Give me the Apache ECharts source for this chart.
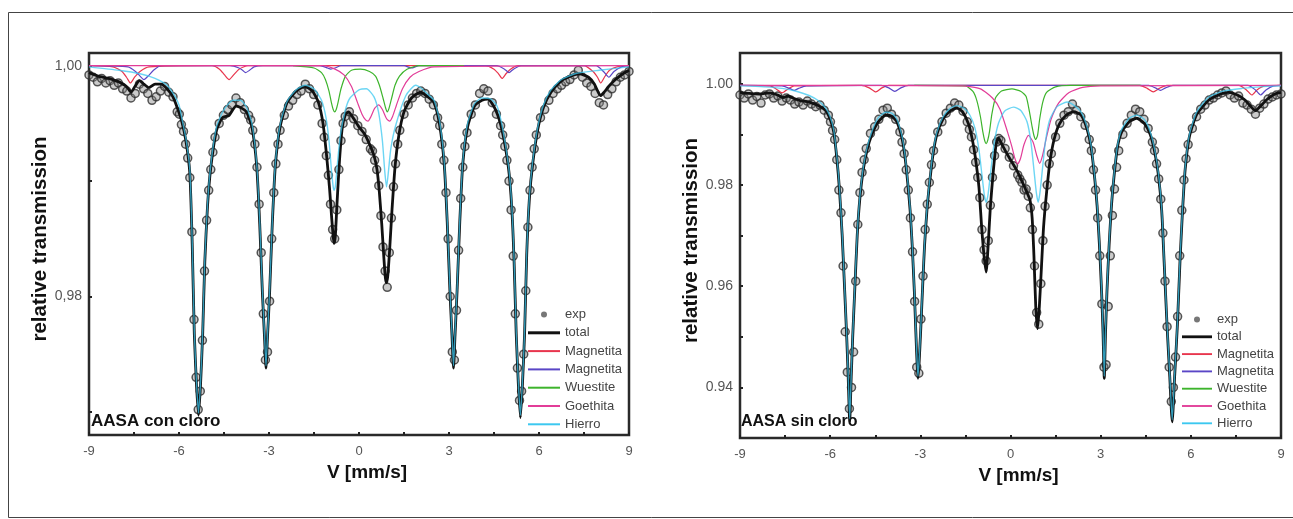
<!DOCTYPE html>
<html>
<head>
<meta charset="utf-8">
<script src="https://cdn.jsdelivr.net/npm/echarts@6/dist/echarts.min.js"></script>
<style>
  html, body { margin: 0; padding: 0; background: #fff; }
  #chart { width: 1293px; height: 519px; }
</style>
</head>
<body>
<div id="chart"></div>
<script>
// ---- AASA con cloro (left panel), [V mm/s, relative transmission] ----
const leftExp = [
  [-9.00,0.9992],[-8.86,0.9990],[-8.72,0.9986],[-8.58,0.9989],[-8.44,0.9985],[-8.30,0.9987],[-8.16,0.9983],
  [-8.02,0.9985],[-7.88,0.9980],[-7.74,0.9978],[-7.60,0.9972],[-7.46,0.9976],[-7.32,0.9984],[-7.18,0.9980],
  [-7.04,0.9976],[-6.90,0.9970],[-6.76,0.9973],[-6.62,0.9978],[-6.48,0.9982],[-6.34,0.9977],[-6.20,0.9973],
  [-6.06,0.9960],[-5.99,0.9958],[-5.92,0.9949],[-5.85,0.9943],[-5.78,0.9932],[-5.71,0.9920],[-5.64,0.9903],
  [-5.57,0.9856],[-5.50,0.9780],[-5.43,0.9730],[-5.36,0.9702],[-5.29,0.9718],[-5.22,0.9762],[-5.15,0.9822],
  [-5.08,0.9866],[-5.01,0.9892],[-4.94,0.9910],[-4.87,0.9925],[-4.80,0.9938],[-4.66,0.9950],[-4.52,0.9957],
  [-4.38,0.9962],[-4.24,0.9966],[-4.10,0.9972],[-3.96,0.9968],[-3.82,0.9962],[-3.68,0.9957],[-3.61,0.9953],
  [-3.54,0.9944],[-3.47,0.9932],[-3.40,0.9912],[-3.33,0.9880],[-3.26,0.9838],[-3.19,0.9785],[-3.12,0.9745],
  [-3.05,0.9752],[-2.98,0.9796],[-2.91,0.9850],[-2.84,0.9890],[-2.77,0.9915],[-2.70,0.9932],[-2.63,0.9944],
  [-2.49,0.9957],[-2.35,0.9965],[-2.21,0.9970],[-2.07,0.9975],[-1.93,0.9978],[-1.79,0.9984],[-1.65,0.9980],
  [-1.51,0.9975],[-1.37,0.9966],[-1.23,0.9950],[-1.16,0.9938],[-1.09,0.9922],[-1.02,0.9905],[-0.95,0.9880],
  [-0.88,0.9858],[-0.81,0.9850],[-0.74,0.9875],[-0.67,0.9910],[-0.60,0.9935],[-0.53,0.9950],[-0.46,0.9956],
  [-0.32,0.9960],[-0.18,0.9954],[-0.04,0.9948],[0.10,0.9943],[0.24,0.9936],[0.38,0.9928],[0.45,0.9926],
  [0.52,0.9918],[0.59,0.9910],[0.66,0.9896],[0.73,0.9870],[0.80,0.9843],[0.87,0.9822],[0.94,0.9808],
  [1.01,0.9838],[1.08,0.9868],[1.15,0.9895],[1.22,0.9915],[1.29,0.9932],[1.36,0.9944],[1.50,0.9958],
  [1.64,0.9966],[1.78,0.9972],[1.92,0.9976],[2.06,0.9978],[2.20,0.9976],[2.34,0.9971],[2.48,0.9966],
  [2.62,0.9955],[2.69,0.9948],[2.76,0.9932],[2.83,0.9918],[2.90,0.9890],[2.97,0.9850],[3.04,0.9800],
  [3.11,0.9752],[3.18,0.9745],[3.25,0.9788],[3.32,0.9840],[3.39,0.9885],[3.46,0.9912],[3.53,0.9930],
  [3.60,0.9942],[3.74,0.9958],[3.88,0.9966],[4.02,0.9976],[4.16,0.9980],[4.30,0.9978],[4.44,0.9968],
  [4.58,0.9958],[4.72,0.9948],[4.79,0.9940],[4.86,0.9930],[4.93,0.9918],[5.00,0.9900],[5.07,0.9875],
  [5.14,0.9835],[5.21,0.9785],[5.28,0.9738],[5.35,0.9710],[5.42,0.9718],[5.49,0.9750],[5.56,0.9805],
  [5.63,0.9860],[5.70,0.9892],[5.77,0.9912],[5.84,0.9928],[5.91,0.9940],[6.05,0.9955],[6.19,0.9962],
  [6.33,0.9970],[6.47,0.9976],[6.61,0.9980],[6.75,0.9983],[6.89,0.9986],[7.03,0.9988],[7.17,0.9992],
  [7.31,0.9996],[7.45,0.9990],[7.59,0.9985],[7.73,0.9982],[7.87,0.9976],[8.01,0.9968],[8.15,0.9966],
  [8.29,0.9975],[8.43,0.9980],[8.57,0.9986],[8.71,0.9990],[8.85,0.9992],[9.00,0.9995]
];
const leftTotal = [
  [-9.00,0.9994],[-8.70,0.9991],[-8.35,0.9989],[-8.00,0.9986],[-7.75,0.9982],[-7.60,0.9977],[-7.47,0.9982],
  [-7.32,0.9987],[-7.17,0.9984],[-7.00,0.9981],[-6.80,0.9984],[-6.60,0.9984],[-6.40,0.9980],[-6.20,0.9973],
  [-6.05,0.9963],[-5.91,0.9952],[-5.77,0.9935],[-5.64,0.9907],[-5.56,0.9846],[-5.49,0.9768],[-5.42,0.9725],
  [-5.35,0.9697],[-5.28,0.9725],[-5.21,0.9768],[-5.14,0.9830],[-5.05,0.9878],[-4.94,0.9912],[-4.75,0.9944],
  [-4.55,0.9955],[-4.33,0.9957],[-4.10,0.9965],[-3.90,0.9963],[-3.75,0.9960],[-3.57,0.9947],[-3.41,0.9913],
  [-3.31,0.9863],[-3.22,0.9803],[-3.15,0.9765],[-3.10,0.9738],[-3.05,0.9765],[-2.98,0.9803],[-2.89,0.9863],
  [-2.79,0.9913],[-2.63,0.9947],[-2.40,0.9968],[-2.10,0.9978],[-1.80,0.9982],[-1.55,0.9978],[-1.35,0.9968],
  [-1.20,0.9950],[-1.08,0.9922],[-0.98,0.9893],[-0.91,0.9868],[-0.86,0.9852],[-0.83,0.9846],[-0.79,0.9852],
  [-0.73,0.9882],[-0.65,0.9918],[-0.56,0.9946],[-0.45,0.9958],[-0.35,0.9960],[-0.20,0.9955],[0.00,0.9947],
  [0.18,0.9941],[0.35,0.9932],[0.50,0.9922],[0.60,0.9910],[0.68,0.9890],[0.76,0.9862],[0.83,0.9833],
  [0.88,0.9816],[0.92,0.9812],[0.96,0.9818],[1.02,0.9840],[1.10,0.9875],[1.20,0.9912],[1.33,0.9940],
  [1.50,0.9960],[1.75,0.9972],[2.05,0.9977],[2.30,0.9973],[2.50,0.9968],[2.68,0.9950],[2.84,0.9915],
  [2.94,0.9865],[3.03,0.9805],[3.10,0.9766],[3.15,0.9738],[3.20,0.9766],[3.27,0.9805],[3.36,0.9865],
  [3.46,0.9915],[3.62,0.9947],[3.85,0.9965],[4.10,0.9970],[4.30,0.9971],[4.55,0.9962],[4.77,0.9944],
  [4.98,0.9912],[5.09,0.9878],[5.17,0.9830],[5.24,0.9768],[5.31,0.9725],[5.38,0.9695],[5.45,0.9725],
  [5.52,0.9768],[5.59,0.9836],[5.68,0.9885],[5.79,0.9915],[5.96,0.9945],[6.15,0.9964],[6.40,0.9977],
  [6.75,0.9987],[7.05,0.9991],[7.35,0.9993],[7.65,0.9990],[7.85,0.9984],[8.05,0.9974],[8.17,0.9977],
  [8.32,0.9982],[8.55,0.9988],[8.80,0.9993],[9.00,0.9996]
];
const leftMagA = [
  [-9,1.0],[-8.2,0.9999],[-7.9,0.9995],[-7.75,0.9990],[-7.62,0.9985],[-7.48,0.9990],[-7.3,0.9995],[-7.0,0.9999],
  [-4.9,1.0],[-4.65,0.9997],[-4.48,0.9992],[-4.33,0.9988],[-4.18,0.9992],[-4.0,0.9997],[-3.7,1.0],
  [4.2,1.0],[4.5,0.9997],[4.65,0.9993],[4.77,0.9989],[4.9,0.9993],[5.05,0.9997],[5.3,1.0],
  [7.5,1.0],[7.8,0.9995],[7.95,0.9990],[8.06,0.9985],[8.18,0.9990],[8.35,0.9996],[8.6,0.9999],[9,1.0]
];
const leftMagB = [
  [-9,1.0],[-7.7,0.9999],[-7.45,0.9995],[-7.3,0.9991],[-7.17,0.9988],[-7.03,0.9991],[-6.85,0.9996],[-6.6,1.0],
  [-4.3,1.0],[-4.0,0.9998],[-3.88,0.9996],[-3.78,0.9994],[-3.65,0.9996],[-3.5,0.9999],[-3.2,1.0],
  [-1.3,1.0],[-1.05,0.9998],[-0.94,0.9997],[-0.8,0.9998],[-0.6,1.0],[1.5,1.0],[1.75,0.9998],[2.0,1.0],
  [4.6,1.0],[4.85,0.9997],[5.0,0.9994],[5.15,0.9997],[5.4,1.0],
  [7.9,1.0],[8.15,0.9995],[8.33,0.9990],[8.5,0.9995],[8.75,0.9999],[9,1.0]
];
const leftWue = [
  [-2.2,1.0],[-1.5,0.9998],[-1.25,0.9994],[-1.12,0.9988],[-1.0,0.9978],[-0.92,0.9968],[-0.86,0.9962],
  [-0.81,0.9960],[-0.76,0.9962],[-0.70,0.9968],[-0.60,0.9980],[-0.45,0.9991],[-0.25,0.9996],[0.05,0.9997],
  [0.35,0.9995],[0.55,0.9991],[0.68,0.9983],[0.80,0.9972],[0.88,0.9964],[0.94,0.9960],[1.00,0.9963],
  [1.08,0.9971],[1.20,0.9983],[1.35,0.9991],[1.60,0.9997],[2.0,1.0],[3.5,1.0]
];
const leftGoe = [
  [-9,1.0],[-1.2,1.0],[-0.8,0.9997],[-0.5,0.9992],[-0.25,0.9982],[-0.05,0.9968],[0.10,0.9958],[0.22,0.9953],
  [0.30,0.9952],[0.40,0.9956],[0.52,0.9963],[0.65,0.9966],[0.78,0.9962],[0.92,0.9954],[1.02,0.9952],
  [1.12,0.9956],[1.25,0.9966],[1.45,0.9980],[1.70,0.9990],[2.0,0.9995],[2.5,0.9999],[9,1.0]
];
const leftHie = [
  [-9.00,0.9999],[-8.00,0.9996],[-7.30,0.9993],[-6.80,0.9989],[-6.40,0.9983],[-6.15,0.9974],[-6.00,0.9966],
  [-5.91,0.9955],[-5.77,0.9937],[-5.64,0.9910],[-5.56,0.9848],[-5.49,0.9770],[-5.42,0.9727],[-5.35,0.9699],
  [-5.28,0.9727],[-5.21,0.9770],[-5.14,0.9832],[-5.05,0.9880],[-4.94,0.9914],[-4.75,0.9947],[-4.50,0.9962],
  [-4.20,0.9970],[-3.95,0.9970],[-3.75,0.9964],[-3.57,0.9950],[-3.41,0.9915],[-3.31,0.9865],[-3.22,0.9805],
  [-3.15,0.9767],[-3.10,0.9740],[-3.05,0.9767],[-2.98,0.9805],[-2.89,0.9865],[-2.79,0.9915],[-2.63,0.9949],
  [-2.40,0.9969],[-2.10,0.9979],[-1.80,0.9983],[-1.50,0.9980],[-1.25,0.9970],[-1.10,0.9955],[-1.00,0.9935],
  [-0.92,0.9910],[-0.86,0.9895],[-0.83,0.9892],[-0.79,0.9895],[-0.72,0.9915],[-0.62,0.9940],[-0.45,0.9962],
  [-0.30,0.9972],[0.00,0.9979],[0.25,0.9980],[0.50,0.9973],[0.65,0.9960],[0.78,0.9935],[0.86,0.9908],
  [0.92,0.9895],[0.98,0.9908],[1.06,0.9928],[1.22,0.9948],[1.56,0.9974],[1.89,0.9983],[2.10,0.9980],
  [2.30,0.9975],[2.50,0.9970],[2.68,0.9953],[2.84,0.9917],[2.94,0.9867],[3.03,0.9807],[3.10,0.9768],
  [3.15,0.9740],[3.20,0.9768],[3.27,0.9807],[3.36,0.9867],[3.46,0.9917],[3.62,0.9950],[3.85,0.9967],
  [4.10,0.9972],[4.40,0.9971],[4.60,0.9965],[4.77,0.9948],[4.98,0.9914],[5.09,0.9880],[5.17,0.9832],
  [5.24,0.9770],[5.31,0.9727],[5.38,0.9697],[5.45,0.9727],[5.52,0.9770],[5.59,0.9838],[5.68,0.9887],
  [5.79,0.9917],[5.96,0.9947],[6.15,0.9966],[6.40,0.9979],[6.75,0.9988],[7.20,0.9993],[8.00,0.9996],[9.00,0.9999]
];

// ---- AASA sin cloro (right panel) ----
const rightExp = [
  [-9.00,0.9978],[-8.86,0.9972],[-8.72,0.9980],[-8.58,0.9968],[-8.44,0.9975],[-8.30,0.9962],[-8.16,0.9978],
  [-8.02,0.9980],[-7.88,0.9972],[-7.74,0.9976],[-7.60,0.9966],[-7.46,0.9972],[-7.32,0.9968],[-7.18,0.9960],
  [-7.04,0.9964],[-6.90,0.9958],[-6.76,0.9966],[-6.62,0.9960],[-6.48,0.9955],[-6.34,0.9958],[-6.20,0.9948],
  [-6.06,0.9938],[-5.99,0.9925],[-5.92,0.9908],[-5.85,0.9890],[-5.78,0.9850],[-5.71,0.9790],[-5.64,0.9745],
  [-5.57,0.9640],[-5.50,0.9510],[-5.43,0.9430],[-5.36,0.9358],[-5.29,0.9400],[-5.22,0.9470],[-5.15,0.9610],
  [-5.08,0.9722],[-5.01,0.9785],[-4.94,0.9825],[-4.87,0.9850],[-4.80,0.9872],[-4.66,0.9902],[-4.52,0.9915],
  [-4.38,0.9930],[-4.24,0.9948],[-4.10,0.9952],[-3.96,0.9940],[-3.82,0.9930],[-3.68,0.9905],[-3.61,0.9885],
  [-3.54,0.9862],[-3.47,0.9830],[-3.40,0.9790],[-3.33,0.9735],[-3.26,0.9668],[-3.19,0.9570],[-3.12,0.9440],
  [-3.05,0.9428],[-2.98,0.9535],[-2.91,0.9620],[-2.84,0.9712],[-2.77,0.9762],[-2.70,0.9805],[-2.63,0.9840],
  [-2.56,0.9868],[-2.42,0.9905],[-2.28,0.9925],[-2.14,0.9942],[-2.00,0.9952],[-1.86,0.9962],[-1.72,0.9958],
  [-1.58,0.9946],[-1.44,0.9925],[-1.37,0.9910],[-1.30,0.9895],[-1.23,0.9870],[-1.16,0.9845],[-1.09,0.9815],
  [-1.02,0.9775],[-0.95,0.9712],[-0.88,0.9672],[-0.81,0.9650],[-0.74,0.9690],[-0.67,0.9760],[-0.60,0.9815],
  [-0.53,0.9858],[-0.46,0.9885],[-0.39,0.9892],[-0.32,0.9888],[-0.18,0.9872],[-0.04,0.9855],[0.10,0.9838],
  [0.24,0.9820],[0.31,0.9812],[0.38,0.9805],[0.45,0.9790],[0.52,0.9792],[0.59,0.9778],[0.66,0.9755],
  [0.73,0.9712],[0.80,0.9640],[0.87,0.9548],[0.94,0.9525],[1.01,0.9605],[1.08,0.9690],[1.15,0.9758],
  [1.22,0.9800],[1.29,0.9842],[1.36,0.9862],[1.50,0.9895],[1.64,0.9922],[1.78,0.9938],[1.92,0.9945],
  [2.06,0.9960],[2.20,0.9948],[2.34,0.9935],[2.48,0.9918],[2.62,0.9890],[2.69,0.9868],[2.76,0.9830],
  [2.83,0.9790],[2.90,0.9735],[2.97,0.9660],[3.04,0.9565],[3.11,0.9440],[3.18,0.9445],[3.25,0.9560],
  [3.32,0.9660],[3.39,0.9740],[3.46,0.9792],[3.53,0.9835],[3.60,0.9868],[3.74,0.9900],[3.88,0.9922],
  [4.02,0.9938],[4.16,0.9950],[4.30,0.9945],[4.44,0.9930],[4.58,0.9912],[4.72,0.9885],[4.79,0.9868],
  [4.86,0.9842],[4.93,0.9812],[5.00,0.9772],[5.07,0.9705],[5.14,0.9610],[5.21,0.9520],[5.28,0.9440],
  [5.35,0.9372],[5.42,0.9400],[5.49,0.9460],[5.56,0.9540],[5.63,0.9660],[5.70,0.9750],[5.77,0.9810],
  [5.84,0.9852],[5.91,0.9880],[6.05,0.9912],[6.19,0.9935],[6.33,0.9950],[6.47,0.9958],[6.61,0.9968],
  [6.75,0.9972],[6.89,0.9978],[7.03,0.9982],[7.17,0.9986],[7.31,0.9978],[7.45,0.9972],[7.59,0.9976],
  [7.73,0.9962],[7.87,0.9958],[8.01,0.9950],[8.15,0.9940],[8.29,0.9952],[8.43,0.9960],[8.57,0.9970],
  [8.71,0.9974],[8.85,0.9978],[9.00,0.9980]
];
const rightTotal = [
  [-9.00,0.9983],[-8.70,0.9981],[-8.35,0.9980],[-8.00,0.9982],[-7.75,0.9978],[-7.57,0.9973],[-7.40,0.9976],
  [-7.20,0.9971],[-7.00,0.9967],[-6.70,0.9964],[-6.40,0.9957],[-6.15,0.9947],[-6.00,0.9930],[-5.88,0.9905],
  [-5.77,0.9848],[-5.69,0.9790],[-5.60,0.9700],[-5.52,0.9595],[-5.45,0.9500],[-5.40,0.9420],[-5.35,0.9334],
  [-5.30,0.9420],[-5.25,0.9500],[-5.18,0.9595],[-5.10,0.9700],[-5.01,0.9775],[-4.90,0.9830],[-4.77,0.9870],
  [-4.60,0.9902],[-4.40,0.9925],[-4.15,0.9938],[-3.95,0.9936],[-3.78,0.9925],[-3.62,0.9895],[-3.52,0.9860],
  [-3.42,0.9805],[-3.34,0.9750],[-3.27,0.9680],[-3.20,0.9590],[-3.15,0.9510],[-3.11,0.9450],[-3.08,0.9418],
  [-3.04,0.9450],[-2.99,0.9510],[-2.93,0.9590],[-2.86,0.9680],[-2.78,0.9750],[-2.69,0.9805],[-2.58,0.9860],
  [-2.45,0.9900],[-2.25,0.9930],[-2.00,0.9947],[-1.78,0.9952],[-1.60,0.9945],[-1.40,0.9921],[-1.27,0.9890],
  [-1.17,0.9855],[-1.05,0.9796],[-0.96,0.9717],[-0.88,0.9660],[-0.81,0.9628],[-0.74,0.9684],[-0.67,0.9757],
  [-0.58,0.9822],[-0.48,0.9880],[-0.40,0.9893],[-0.28,0.9880],[-0.12,0.9862],[0.05,0.9845],[0.21,0.9829],
  [0.40,0.9805],[0.55,0.9785],[0.65,0.9770],[0.72,0.9735],[0.78,0.9660],[0.84,0.9560],[0.90,0.9516],
  [0.96,0.9560],[1.03,0.9638],[1.10,0.9717],[1.20,0.9785],[1.31,0.9845],[1.45,0.9890],[1.62,0.9920],
  [1.85,0.9938],[2.10,0.9945],[2.35,0.9938],[2.55,0.9910],[2.68,0.9875],[2.79,0.9820],[2.88,0.9760],
  [2.96,0.9680],[3.03,0.9590],[3.08,0.9505],[3.12,0.9418],[3.16,0.9505],[3.21,0.9590],[3.28,0.9680],
  [3.36,0.9760],[3.45,0.9820],[3.56,0.9875],[3.70,0.9905],[3.95,0.9925],[4.20,0.9932],[4.45,0.9922],
  [4.65,0.9900],[4.80,0.9865],[4.92,0.9820],[5.03,0.9750],[5.11,0.9650],[5.21,0.9520],[5.30,0.9420],
  [5.38,0.9332],[5.46,0.9420],[5.55,0.9520],[5.64,0.9650],[5.72,0.9745],[5.81,0.9830],[5.95,0.9895],
  [6.20,0.9940],[6.60,0.9968],[7.00,0.9980],[7.25,0.9983],[7.55,0.9978],[7.80,0.9968],[8.00,0.9955],
  [8.15,0.9947],[8.30,0.9955],[8.55,0.9970],[8.80,0.9980],[9.00,0.9983]
];
const rightMagA = [
  [-9,0.9997],[-8.0,0.9996],[-7.8,0.9990],[-7.6,0.9982],[-7.4,0.9990],[-7.2,0.9996],
  [-4.95,0.9997],[-4.7,0.9992],[-4.48,0.9984],[-4.28,0.9992],[-4.05,0.9997],
  [4.3,0.9997],[4.55,0.9991],[4.75,0.9984],[4.95,0.9991],[5.2,0.9997],
  [7.6,0.9997],[7.85,0.9988],[8.03,0.9978],[8.2,0.9988],[8.45,0.9996],[9,0.9997]
];
const rightMagB = [
  [-9,0.9997],[-7.6,0.9996],[-7.35,0.9991],[-7.2,0.9987],[-7.05,0.9991],[-6.8,0.9996],
  [-4.3,0.9997],[-4.05,0.9992],[-3.85,0.9985],[-3.65,0.9992],[-3.4,0.9997],
  [4.6,0.9997],[4.82,0.9992],[4.99,0.9987],[5.16,0.9992],[5.4,0.9997],
  [7.9,0.9997],[8.15,0.9988],[8.32,0.9978],[8.5,0.9988],[8.75,0.9996],[9,0.9997]
];
const rightWue = [
  [-3.2,0.9997],[-1.5,0.9996],[-1.25,0.9985],[-1.12,0.9967],[-1.0,0.9935],[-0.92,0.9905],[-0.86,0.9888],
  [-0.81,0.9882],[-0.76,0.9888],[-0.70,0.9905],[-0.62,0.9940],[-0.50,0.9972],[-0.30,0.9986],[0.05,0.9990],
  [0.35,0.9985],[0.52,0.9975],[0.63,0.9945],[0.72,0.9915],[0.78,0.9898],[0.84,0.9890],[0.90,0.9898],
  [0.97,0.9930],[1.07,0.9963],[1.20,0.9983],[1.50,0.9994],[2.0,0.9997],[4.35,0.9997]
];
const rightGoe = [
  [-9,0.9997],[-1.6,0.9996],[-1.0,0.9990],[-0.60,0.9972],[-0.35,0.9950],[-0.10,0.9905],[0.05,0.9875],
  [0.15,0.9852],[0.24,0.9842],[0.33,0.9852],[0.45,0.9880],[0.60,0.9898],[0.75,0.9885],[0.88,0.9857],
  [0.97,0.9843],[1.06,0.9857],[1.20,0.9895],[1.35,0.9930],[1.60,0.9962],[1.95,0.9983],[2.4,0.9993],
  [3,0.9996],[9,0.9997]
];
const rightHie = [
  [-9.00,0.9996],[-8.20,0.9994],[-7.60,0.9991],[-7.10,0.9985],[-6.70,0.9977],[-6.40,0.9967],[-6.15,0.9952],
  [-6.00,0.9935],[-5.88,0.9908],[-5.77,0.9852],[-5.69,0.9794],[-5.60,0.9704],[-5.52,0.9599],[-5.45,0.9504],
  [-5.40,0.9424],[-5.35,0.9338],[-5.30,0.9424],[-5.25,0.9504],[-5.18,0.9599],[-5.10,0.9704],[-5.01,0.9779],
  [-4.90,0.9834],[-4.77,0.9875],[-4.60,0.9908],[-4.40,0.9933],[-4.15,0.9944],[-3.95,0.9942],[-3.78,0.9930],
  [-3.62,0.9899],[-3.52,0.9864],[-3.42,0.9809],[-3.34,0.9754],[-3.27,0.9684],[-3.20,0.9594],[-3.15,0.9514],
  [-3.11,0.9454],[-3.08,0.9422],[-3.04,0.9454],[-2.99,0.9514],[-2.93,0.9594],[-2.86,0.9684],[-2.78,0.9754],
  [-2.69,0.9809],[-2.58,0.9864],[-2.45,0.9904],[-2.25,0.9934],[-2.00,0.9952],[-1.78,0.9957],[-1.55,0.9952],
  [-1.35,0.9938],[-1.18,0.9912],[-1.05,0.9870],[-0.95,0.9820],[-0.87,0.9780],[-0.81,0.9766],[-0.75,0.9780],
  [-0.67,0.9820],[-0.55,0.9880],[-0.40,0.9922],[-0.20,0.9946],[0.10,0.9954],[0.35,0.9947],[0.55,0.9925],
  [0.68,0.9885],[0.78,0.9830],[0.86,0.9785],[0.92,0.9766],[0.98,0.9785],[1.06,0.9830],[1.16,0.9885],
  [1.30,0.9928],[1.55,0.9955],[1.88,0.9964],[2.10,0.9958],[2.35,0.9944],[2.55,0.9914],[2.68,0.9879],
  [2.79,0.9824],[2.88,0.9764],[2.96,0.9684],[3.03,0.9594],[3.08,0.9509],[3.12,0.9422],[3.16,0.9509],
  [3.21,0.9594],[3.28,0.9684],[3.36,0.9764],[3.45,0.9824],[3.56,0.9879],[3.70,0.9910],[3.95,0.9932],
  [4.20,0.9938],[4.45,0.9930],[4.65,0.9905],[4.80,0.9869],[4.92,0.9824],[5.03,0.9754],[5.11,0.9654],
  [5.21,0.9524],[5.30,0.9424],[5.38,0.9336],[5.46,0.9424],[5.55,0.9524],[5.64,0.9654],[5.72,0.9749],
  [5.81,0.9834],[5.95,0.9899],[6.20,0.9945],[6.60,0.9974],[7.10,0.9986],[7.70,0.9991],[8.30,0.9994],[9.00,0.9996]
];

// axis ticks / labels
const leftYLabels = [0.98, 1.00];
const leftYTicks = [0.97, 0.98, 0.99, 1.00];
const rightYLabels = [0.94, 0.96, 0.98, 1.00];
const rightYTicks = [0.94, 0.95, 0.96, 0.97, 0.98, 0.99, 1.00];
const legendNames = ['exp', 'total', 'Magnetita A', 'Magnetita B', 'Wuestite', 'Goethita', 'Hierro'];

const FONT = 'Liberation Sans';
const colors = {
  total: '#111111', magA: '#e8354d', magB: '#5a46c6',
  wue: '#3db42c', goe: '#e23c98', hie: '#3cc8f0'
};

const chart = echarts.init(document.getElementById('chart'));

function xAxisFor(gridIndex) {
  return {
    gridIndex: gridIndex, type: 'value', min: -9, max: 9, interval: 3,
    name: 'V [mm/s]', nameLocation: 'middle', nameGap: 26,
    nameTextStyle: { fontFamily: FONT, fontWeight: 'bold', fontSize: 19, color: '#111', padding: [0, 0, 0, 16] },
    axisLine: { show: false, onZero: false },
    splitLine: { show: false },
    axisTick: { show: true, inside: true, length: 3, lineStyle: { color: '#222', width: 2 } },
    minorTick: { show: true, splitNumber: 2, length: 3, lineStyle: { color: '#222', width: 2 } },
    axisLabel: { margin: 10, fontFamily: FONT, fontSize: 13, color: '#555' }
  };
}

function yAxisFor(gridIndex, min, max, labels, ticks, fmt, gap) {
  return {
    gridIndex: gridIndex, type: 'value', min: min, max: max,
    name: 'relative transmission', nameLocation: 'middle', nameGap: gap,
    nameTextStyle: { fontFamily: FONT, fontWeight: 'bold', fontSize: 20.5, color: '#111', padding: [0, 0, 0, 10] },
    axisLine: { show: false, onZero: false },
    splitLine: { show: false },
    axisTick: { show: true, inside: true, length: 3, customValues: ticks, lineStyle: { color: '#222', width: 2 } },
    axisLabel: { customValues: labels, formatter: fmt, margin: 7, fontFamily: FONT, fontSize: 14, color: '#555' }
  };
}

function panelSeries(idx, exp, total, magA, magB, wue, goe, hie) {
  const line = (name, data, color, width, z, opacity) => ({
    name: name, type: 'line', xAxisIndex: idx, yAxisIndex: idx, data: data,
    symbol: 'none', smooth: 0.2,
    lineStyle: { color: color, width: width, opacity: opacity || 1 }, itemStyle: { color: color }, z: z
  });
  return [
    {
      name: 'exp', type: 'scatter', xAxisIndex: idx, yAxisIndex: idx, data: exp,
      symbol: 'circle', symbolSize: 8, z: 1,
      itemStyle: { color: 'rgba(125,125,125,0.5)', borderColor: '#2e2e2e', borderWidth: 1.5 }
    },
    line('total', total, colors.total, 2.8, 2),
    line('Magnetita A', magA, colors.magA, 1.2, 3),
    line('Magnetita B', magB, colors.magB, 1.2, 3),
    line('Wuestite', wue, colors.wue, 1.2, 3),
    line('Goethita', goe, colors.goe, 1.2, 3),
    line('Hierro', hie, colors.hie, 1.4, 4, 0.75)
  ];
}

const thinBar = 'path://M0,0 L32,0 L32,2 L0,2 Z';
const thickBar = 'path://M0,0 L32,0 L32,3 L0,3 Z';

function legendFor(left, top, width, gap) {
  return {
    orient: 'vertical', left: left, top: top, padding: 0,
    itemWidth: width, itemHeight: 6, itemGap: gap,
    selectedMode: false,
    data: legendNames.map(n => {
      if (n === 'exp') return { name: n, icon: 'circle', itemStyle: { color: '#555', borderColor: '#555', borderWidth: 0 } };
      if (n === 'Hierro') return { name: n, icon: thinBar, itemStyle: { color: colors.hie, opacity: 1 } };
      return { name: n, icon: n === 'total' ? thickBar : thinBar };
    }),
    formatter: n => n.replace(/ [AB]$/, ''),
    textStyle: { fontFamily: FONT, fontSize: 13, color: '#444', lineHeight: 13 }
  };
}

const option = {
  backgroundColor: '#fff',
  animation: false,
  grid: [
    { left: 89, top: 53, width: 540, height: 382, show: true, borderColor: '#2a2a2a', borderWidth: 2.5 },
    { left: 740, top: 53, width: 541, height: 385, show: true, borderColor: '#2a2a2a', borderWidth: 2.5 }
  ],
  xAxis: [xAxisFor(0), xAxisFor(1)],
  yAxis: [
    yAxisFor(0, 0.968, 1.0011, leftYLabels, leftYTicks, v => v.toFixed(2).replace('.', ','), 31),
    yAxisFor(1, 0.930, 1.0061, rightYLabels, rightYTicks, v => v.toFixed(2), 37)
  ],
  legend: [legendFor(528, 308, 32, 5.3), legendFor(1182, 313, 30, 4.3)],
  series: [].concat(
    panelSeries(0, leftExp, leftTotal, leftMagA, leftMagB, leftWue, leftGoe, leftHie),
    panelSeries(1, rightExp, rightTotal, rightMagA, rightMagB, rightWue, rightGoe, rightHie)
  ),
  graphic: [
    { type: 'rect', shape: { x: 8.5, y: 12.5, width: 1300, height: 505 }, style: { fill: 'none', stroke: '#444', lineWidth: 1 }, silent: true },
    { type: 'text', left: 91, top: 413, style: { text: 'AASA con cloro', font: 'bold 17px "Liberation Sans"', fill: '#111' } },
    { type: 'text', left: 741, top: 414, style: { text: 'AASA sin cloro', font: 'bold 16px "Liberation Sans"', fill: '#111' } }
  ]
};

chart.setOption(option);
</script>
</body>
</html>
